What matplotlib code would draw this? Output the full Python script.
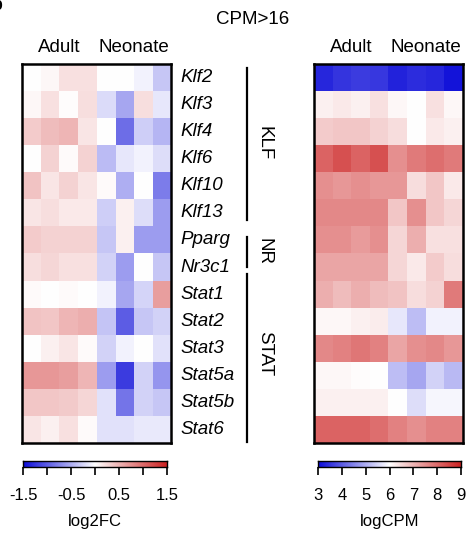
import numpy as np
import matplotlib
matplotlib.use("Agg")
import matplotlib.pyplot as plt
from matplotlib.colors import LinearSegmentedColormap

plt.rcParams['font.family'] = ['Liberation Sans', 'DejaVu Sans']
plt.rcParams['axes.unicode_minus'] = False

genes = ['Klf2', 'Klf3', 'Klf4', 'Klf6', 'Klf10', 'Klf13', 'Pparg', 'Nr3c1',
         'Stat1', 'Stat2', 'Stat3', 'Stat5a', 'Stat5b', 'Stat6']
groups = ['KLF', 'NR', 'STAT']
conditions = ['Adult', 'Neonate']

# log2FC, 4 adult + 4 neonate samples per gene
log2fc = np.array([
    [0.00, 0.05, 0.20, 0.20, 0.00, 0.00, -0.08, -0.35],
    [0.05, 0.20, 0.02, 0.22, -0.22, -0.55, 0.22, -0.15],
    [0.35, 0.45, 0.50, 0.17, 0.00, -0.90, -0.30, -0.45],
    [0.00, 0.30, 0.03, 0.30, -0.42, -0.15, -0.08, -0.20],
    [0.40, 0.17, 0.30, 0.17, 0.03, -0.50, 0.00, -0.80],
    [0.17, 0.22, 0.15, 0.15, -0.30, 0.10, -0.20, -0.60],
    [0.35, 0.30, 0.30, 0.30, -0.35, 0.10, -0.60, -0.60],
    [0.22, 0.28, 0.20, 0.20, -0.28, -0.60, 0.00, -0.35],
    [0.03, 0.00, 0.03, 0.00, -0.08, -0.55, -0.26, 0.65],
    [0.40, 0.38, 0.50, 0.55, -0.36, -1.00, -0.35, -0.27],
    [0.00, 0.10, 0.17, 0.03, -0.27, -0.08, 0.00, -0.18],
    [0.70, 0.70, 0.65, 0.50, -0.60, -1.20, -0.27, -0.65],
    [0.38, 0.38, 0.36, 0.28, -0.18, -0.85, -0.27, -0.35],
    [0.17, 0.10, 0.20, 0.03, -0.18, -0.18, -0.13, -0.13],
])

logcpm = np.array([
    [3.35, 3.50, 3.60, 3.55, 3.30, 3.40, 3.35, 3.10],
    [6.20, 6.30, 6.20, 6.40, 6.10, 6.00, 6.40, 6.10],
    [6.70, 6.75, 6.75, 6.60, 6.45, 6.00, 6.30, 6.20],
    [8.10, 8.35, 8.10, 8.35, 7.50, 7.80, 7.95, 7.80],
    [7.50, 7.40, 7.50, 7.40, 7.40, 6.45, 6.75, 6.30],
    [7.60, 7.60, 7.60, 7.60, 6.75, 7.50, 6.75, 6.55],
    [7.50, 7.50, 7.35, 7.50, 6.55, 7.10, 6.40, 6.40],
    [7.20, 7.20, 7.20, 7.20, 6.55, 6.30, 6.70, 6.45],
    [7.10, 6.90, 7.10, 6.90, 6.80, 6.45, 6.60, 7.80],
    [6.10, 6.10, 6.20, 6.25, 5.70, 5.20, 5.85, 5.85],
    [7.60, 7.70, 7.85, 7.70, 7.20, 7.50, 7.60, 7.40],
    [6.10, 6.10, 6.03, 6.00, 5.20, 4.90, 5.45, 5.15],
    [6.20, 6.20, 6.20, 6.20, 6.00, 5.60, 5.90, 5.90],
    [8.10, 8.10, 8.10, 7.95, 7.70, 7.50, 7.70, 7.70],
])

fc_ticks = [-1.5, -1, -0.5, 0, 0.5, 1, 1.5]
fc_labels = ['-1.5', '', '-0.5', '', '0.5', '', '1.5']
cpm_ticks = [3, 4, 5, 6, 7, 8, 9]
cpm_labels = ['3', '4', '5', '6', '7', '8', '9']

cmap = LinearSegmentedColormap.from_list('bwr2', ['#0c0cd8', '#ffffff', '#cc2222'])

W, H = 466, 535
fig = plt.figure(figsize=(W / 100, H / 100), dpi=100)

def fbox(x0, y0, x1, y1):
    # pixel box (top-down) -> figure coords
    return [x0 / W, 1 - y1 / H, (x1 - x0) / W, (y1 - y0) / H]

def heat(box, data, vmin, vmax):
    ax = fig.add_axes(fbox(*box))
    ax.imshow(data, cmap=cmap, vmin=vmin, vmax=vmax, aspect='auto',
              interpolation='nearest')
    ax.set_xticks([])
    ax.set_yticks([])
    for s in ax.spines.values():
        s.set_linewidth(1.8)
        s.set_color('black')
    return ax

def cbar(box, vmin, vmax, ticks, labels, title):
    cax = fig.add_axes(fbox(*box))
    grad = np.linspace(vmin, vmax, 256)[None, :]
    cax.imshow(grad, cmap=cmap, vmin=vmin, vmax=vmax, aspect='auto',
               extent=[vmin, vmax, 0, 1])
    cax.set_xlim(vmin, vmax)
    cax.set_yticks([])
    cax.set_xticks(ticks)
    cax.set_xticklabels(labels, fontsize=12)
    cax.tick_params(axis='x', length=6, width=1.2, pad=9)
    for s in cax.spines.values():
        s.set_linewidth(1.0)
    cax.set_xlabel(title, fontsize=12, labelpad=8)

ax_l = heat((22, 64, 171, 443), log2fc, -1.5, 1.5)
ax_r = heat((314, 64, 463, 443), logcpm, 3, 9)

for ax in (ax_l, ax_r):
    ax.text(1.5, -0.95, conditions[0], ha='center', va='baseline', fontsize=13.5)
    ax.text(5.5, -0.95, conditions[1], ha='center', va='baseline', fontsize=13.5)

# gene names
for i, g in enumerate(genes):
    ax_l.text(8.0, i, g, ha='left', va='center', fontsize=13.5, style='italic')

# group bars and labels
bar_span = [(-0.36, 5.26), (5.88, 7.0), (7.24, 13.45)]
label_y = [2.43, 6.43, 10.2]
for name, (y0, y1), ly in zip(groups, bar_span, label_y):
    ax_l.plot([11.6, 11.6], [y0, y1], color='black', lw=1.6, clip_on=False)
    ax_l.text(12.5, ly, name, ha='center', va='center',
              rotation=-90, fontsize=13.5)
ax_l.set_xlim(-0.5, 7.5)
ax_l.set_ylim(13.5, -0.5)

fig.text(253 / W, 1 - 19 / H, 'CPM>16', ha='center', va='center', fontsize=13.5)
fig.text(3 / W, 1 - 6 / H, 'b', ha='right', va='center', fontsize=14,
         fontweight='bold')

cbar((23, 461, 167, 467), -1.5, 1.5, fc_ticks, fc_labels, 'log2FC')
cbar((318, 461, 461, 467), 3, 9, cpm_ticks, cpm_labels, 'logCPM')

fig.savefig('out.png', dpi=100)
